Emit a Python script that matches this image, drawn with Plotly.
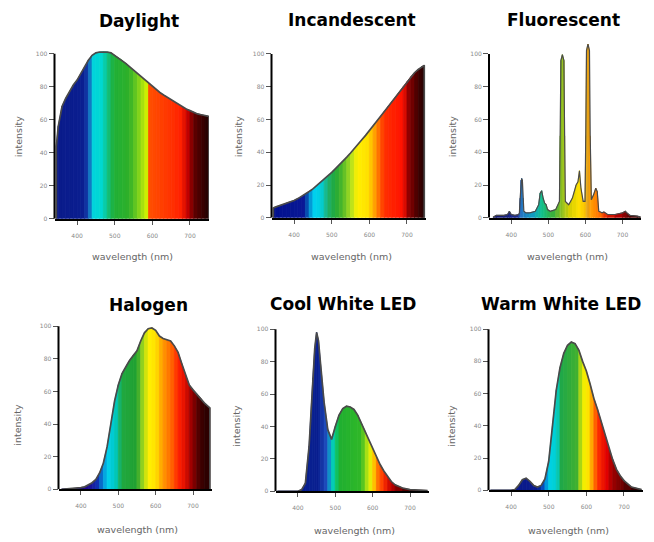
import plotly.graph_objects as go

# ---------------- data ----------------
daylight_wl = [345, 350, 360, 370, 380, 390, 400, 410, 420, 430, 440, 450, 460, 470, 480, 490,
               500, 510, 520, 530, 540, 550, 560, 570, 580, 590, 600, 610, 620, 630, 640, 650,
               660, 670, 680, 690, 700, 710, 720, 730, 740, 750]
daylight_int = [44, 56, 68, 73, 77, 81, 84, 88, 92, 96, 99, 100.5, 101, 101.2, 101, 100.5,
                99, 97.5, 96, 94, 92, 90, 88, 86, 84, 82, 80, 78, 76.5, 75, 73.5, 72,
                70.5, 69, 67.5, 66.5, 65.5, 64.5, 63.5, 63, 62.5, 62]

incand_wl = [345, 350, 360, 370, 380, 390, 400, 410, 420, 430, 440, 450, 460, 470, 480, 490,
             500, 510, 520, 530, 540, 550, 560, 570, 580, 590, 600, 610, 620, 630, 640, 650,
             660, 670, 680, 690, 700, 710, 720, 730, 740, 746]
incand_int = [6, 6.5, 7.3, 8, 9, 9.8, 10.5, 11.7, 13, 14.5, 16, 17.6, 19.5, 21.5, 23.5, 25.5,
              27.7, 30, 32.2, 34.5, 37, 39.5, 42, 44.8, 47.6, 50.3, 53, 56, 59, 62, 65, 68,
              71, 74, 77, 80, 83, 86, 88.5, 90.5, 92.3, 93]

fluor_wl = [352, 360, 380, 390, 395, 400, 410, 420, 422, 424, 426, 428, 430, 432, 434, 440,
            450, 465, 474, 478, 482, 486, 490, 494, 498, 505, 520, 530, 532, 534, 538, 542,
            544, 546, 555, 565, 575, 580, 584, 588, 594, 599, 601, 603, 607, 611, 613, 616,
            622, 628, 632, 636, 645, 650, 660, 680, 700, 708, 712, 720, 740, 748]
fluor_int = [0.5, 1.5, 1.5, 2, 4, 2, 1.5, 2, 3, 12, 23, 24, 23, 12, 4, 3,
             3, 4, 8, 15, 16.5, 12, 9, 8, 5, 4, 5, 10, 50, 96, 99.5, 96,
             50, 10, 8, 12, 20, 22, 28.7, 18, 10, 10, 50, 102, 106, 102, 50, 11,
             14, 18, 16, 4, 3, 3.5, 2, 2, 3, 4, 3, 1.5, 1, 0.5]

halogen_wl = [348, 360, 380, 390, 400, 410, 420, 430, 440, 450, 460, 470, 480, 490, 500, 510,
              520, 530, 540, 550, 560, 570, 580, 590, 600, 610, 620, 630, 640, 650, 660, 670,
              680, 690, 700, 710, 720, 730, 745]
halogen_int = [0, 0.2, 0.5, 0.7, 1, 1.5, 2.5, 4, 6, 10, 16, 26, 40, 54, 64, 71,
               75, 79, 82, 85, 91, 96, 98.5, 99, 97.5, 94, 92.5, 91.5, 91, 88, 84, 77,
               70, 64, 61, 58.5, 56, 53, 50]

coolled_wl = [345, 400, 410, 420, 430, 440, 445, 450, 455, 460, 470, 480, 490, 500, 510, 520,
              530, 540, 550, 560, 570, 580, 590, 600, 610, 620, 630, 640, 650, 660, 680, 700,
              720, 745]
coolled_int = [0, 0, 1, 5, 28, 70, 88, 98, 93, 80, 55, 38, 32, 40, 47, 51,
               52.5, 52, 50.5, 47, 42, 37, 31, 26, 21, 16.5, 12.5, 9, 6, 4, 2, 1,
               0.7, 0.5]

warmled_wl = [345, 400, 410, 420, 430, 440, 450, 460, 470, 480, 490, 500, 510, 520, 530, 540,
              550, 560, 570, 580, 590, 600, 610, 620, 630, 640, 650, 660, 670, 680, 690, 700,
              720, 745]
warmled_int = [0, 0, 0.5, 3, 6.5, 7.5, 5.5, 3, 2, 3, 7, 18, 40, 62, 76, 85,
               90, 92, 91, 87, 80, 74, 66, 57, 50, 42, 34, 26, 19, 13, 9, 6,
               2, 0.5]

titles = ["Daylight", "Incandescent", "Fluorescent", "Halogen", "Cool White LED", "Warm White LED"]
x_ticks = [400, 500, 600, 700]
y_ticks = [0, 20, 40, 60, 80, 100]

# ---------------- styles ----------------
stops_daylight = [(340, '#0a1a8a'), (420, '#0a1f90'), (432, '#1a50b8'), (442, '#00d4dc'),
                  (468, '#00d8d0'), (482, '#10c080'), (498, '#20b038'), (540, '#30b028'),
                  (560, '#70cc20'), (586, '#d0f000'), (591, '#ff5000'), (640, '#ff3800'),
                  (678, '#ff2000'), (695, '#c00000'), (712, '#600000'), (750, '#200000')]
stops_incand = [(340, '#00108c'), (428, '#0a1896'), (452, '#00d0f0'), (472, '#00d0e0'),
                (490, '#20b070'), (510, '#20a838'), (530, '#50b828'), (552, '#b0e020'),
                (568, '#fff000'), (598, '#ffe000'), (615, '#ffa000'), (640, '#ff3000'),
                (690, '#ff1000'), (705, '#900000'), (730, '#400000'), (750, '#200000')]
stops_fluor = [(340, '#101060'), (415, '#1a2a90'), (428, '#2070c0'), (460, '#10a0c0'),
               (482, '#10c090'), (510, '#30b040'), (538, '#90c020'), (560, '#d8d000'),
               (584, '#ffe000'), (600, '#f8c000'), (607, '#e0a020'), (614, '#ffa000'),
               (640, '#ff7000'), (660, '#e02000'), (690, '#b00000'), (720, '#600000'),
               (750, '#300000')]
stops_halogen = [(340, '#100870'), (420, '#200a90'), (445, '#1030b0'), (472, '#00d0f0'),
                 (494, '#00c8c0'), (510, '#20a840'), (550, '#20a030'), (565, '#90d020'),
                 (582, '#fff000'), (602, '#ffe000'), (618, '#ffa000'), (645, '#ff6000'),
                 (662, '#ff2000'), (680, '#e01000'), (695, '#a00000'), (720, '#400000'),
                 (750, '#200000')]
stops_cool = [(340, '#001890'), (455, '#0a2090'), (478, '#2050c0'), (492, '#00d0d0'),
              (505, '#10c060'), (515, '#20b030'), (570, '#30b828'), (588, '#c0e810'),
              (600, '#ffee00'), (612, '#ff8000'), (630, '#ff3000'), (650, '#c00000'),
              (670, '#800000'), (700, '#400000'), (750, '#200000')]
stops_warm = [(340, '#0a1a8c'), (472, '#0a1a8c'), (490, '#0060d0'), (500, '#00d0e8'),
              (522, '#00d0d0'), (535, '#20a848'), (575, '#40b030'), (592, '#f0f000'),
              (608, '#ffe000'), (618, '#ff9000'), (632, '#ff3000'), (655, '#e00000'),
              (670, '#a00000'), (720, '#400000'), (750, '#200000')]


def hex2rgb(h):
    h = h.lstrip('#')
    return tuple(int(h[i:i + 2], 16) for i in (0, 2, 4))


def color_at(w, stops):
    if w <= stops[0][0]:
        r, g, b = hex2rgb(stops[0][1])
        return f'rgb({r},{g},{b})'
    for (w0, c0), (w1, c1) in zip(stops[:-1], stops[1:]):
        if w0 <= w <= w1:
            t = (w - w0) / (w1 - w0) if w1 > w0 else 0
            a, b = hex2rgb(c0), hex2rgb(c1)
            rgb = [round(a[k] + (b[k] - a[k]) * t) for k in range(3)]
            return f'rgb({rgb[0]},{rgb[1]},{rgb[2]})'
    r, g, b = hex2rgb(stops[-1][1])
    return f'rgb({r},{g},{b})'


series = [
    (daylight_wl, daylight_int, stops_daylight),
    (incand_wl, incand_int, stops_incand),
    (fluor_wl, fluor_int, stops_fluor),
    (halogen_wl, halogen_int, stops_halogen),
    (coolled_wl, coolled_int, stops_cool),
    (warmled_wl, warmled_int, stops_warm),
]

W, H = 654, 542
# pixel boxes: (left, right, y of value 0, y of value 108)
boxes = [
    (54.5, 208.8, 220, 40.7),
    (271.5, 425.8, 219, 41.0),
    (489.0, 641.0, 219, 41.0),
    (58.5, 211.7, 492, 315.0),
    (275.5, 428.7, 494, 318.0),
    (488.5, 642.8, 493, 318.0),
]
title_pos = [(139, 21), (352, 20), (563, 20), (148, 307), (343, 306), (561, 306)]
ylab_pos = [(18, 137), (238, 137), (452, 137), (18, 427), (237, 428), (452, 428)]
xlab_pos = [(132, 258), (351, 258), (567, 258), (137, 532), (354, 533), (568, 533)]

fig = go.Figure()
layout = dict(width=W, height=H, margin=dict(l=0, r=0, t=0, b=0), autosize=False,
              paper_bgcolor='white', plot_bgcolor='white', showlegend=False)
shapes = []
annotations = []

for i, ((wl, val, stops), box) in enumerate(zip(series, boxes)):
    n = i + 1
    xa = 'x' if n == 1 else f'x{n}'
    ya = 'y' if n == 1 else f'y{n}'
    # gradient fill, one slice between each pair of read points
    for k in range(len(wl) - 1):
        c = color_at((wl[k] + wl[k + 1]) / 2, stops)
        fig.add_trace(go.Scatter(
            x=[wl[k], wl[k], wl[k + 1], wl[k + 1], wl[k]],
            y=[0, val[k], val[k + 1], 0, 0],
            mode='lines', fill='toself', fillcolor=c,
            line=dict(color=c, width=0.8), hoverinfo='skip',
            xaxis=xa, yaxis=ya))
    # outline
    fig.add_trace(go.Scatter(
        x=[wl[0]] + list(wl) + [wl[-1]], y=[0] + list(val) + [0],
        mode='lines', line=dict(color='#4a4a4a', width=1.2 if n == 3 else 1.7),
        hoverinfo='skip', xaxis=xa, yaxis=ya))

    left, right, ybot, ytop = box
    xkey = 'xaxis' if n == 1 else f'xaxis{n}'
    ykey = 'yaxis' if n == 1 else f'yaxis{n}'
    layout[xkey] = dict(domain=[left / W, right / W], anchor=ya, range=[340, 750],
                        tickvals=x_ticks, ticks='outside', ticklen=4, tickwidth=1,
                        tickcolor='#555', showline=True, linecolor='black', linewidth=2,
                        showgrid=False, zeroline=False, ticklabelstandoff=6,
                        tickfont=dict(family='DejaVu Sans', size=6, color='#888'))
    layout[ykey] = dict(domain=[1 - ybot / H, 1 - ytop / H], anchor=xa, range=[0, 108],
                        tickvals=y_ticks, ticks='outside', ticklen=5, tickwidth=1,
                        tickcolor='#555', showline=False, showgrid=False, zeroline=False,
                        tickfont=dict(family='DejaVu Sans', size=6, color='#888'))
    shapes.append(dict(type='line', xref=f'{xa} domain', yref=ya, x0=0, x1=0, y0=0, y1=100,
                       line=dict(color='black', width=2), layer='above'))

    tx, ty = title_pos[i]
    annotations.append(dict(text=f'<b>{titles[i]}</b>', x=tx / W, y=1 - ty / H,
                            xref='paper', yref='paper', showarrow=False,
                            xanchor='center', yanchor='middle',
                            font=dict(family='DejaVu Sans', size=17, color='black')))
    lx, ly = ylab_pos[i]
    annotations.append(dict(text='intensity', x=lx / W, y=1 - ly / H, textangle=-90,
                            xref='paper', yref='paper', showarrow=False,
                            xanchor='center', yanchor='middle',
                            font=dict(family='DejaVu Sans', size=9.5, color='#666')))
    wx, wy = xlab_pos[i]
    annotations.append(dict(text='wavelength (nm)', x=wx / W, y=1 - wy / H,
                            xref='paper', yref='paper', showarrow=False,
                            xanchor='center', yanchor='middle',
                            font=dict(family='DejaVu Sans', size=9.5, color='#666')))

layout['shapes'] = shapes
layout['annotations'] = annotations
fig.update_layout(**layout)
fig.write_html('out.html', config={'displayModeBar': False},
               post_script="document.body.style.margin='0';document.body.style.overflow='hidden';")
